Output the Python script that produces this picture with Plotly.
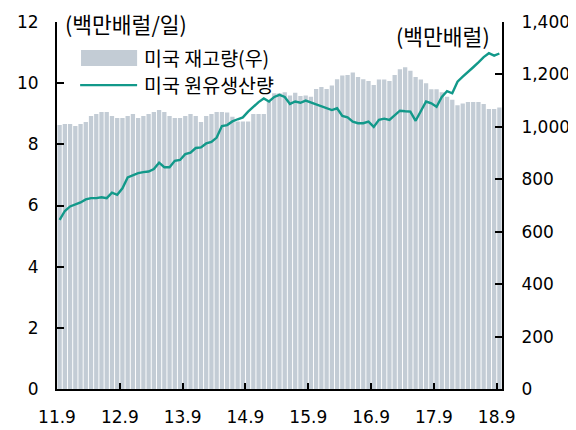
import plotly.graph_objects as go

# ---- data ----
tick_labels = ["11.9", "12.9", "13.9", "14.9", "15.9", "16.9", "17.9", "18.9"]

# US crude inventory (million barrels, right axis), monthly 2011.9 - 2018.9
us_inventory = [
    1007, 1011, 1011, 1003, 1011, 1019, 1041, 1049, 1057, 1057,
    1041, 1034, 1034, 1041, 1049, 1034, 1041, 1049, 1057, 1064,
    1057, 1041, 1034, 1034, 1041, 1049, 1041, 1019, 1041, 1049,
    1057, 1057, 1055, 1039, 1020, 1020, 1020, 1049, 1049, 1049,
    1096, 1128, 1128, 1132, 1120, 1130, 1118, 1120, 1115, 1144,
    1152, 1144, 1158, 1182, 1196, 1198, 1207, 1190, 1182, 1175,
    1160, 1181, 1181, 1175, 1198, 1220, 1227, 1214, 1190, 1181,
    1166, 1143, 1143, 1132, 1115, 1103, 1082, 1089, 1095, 1095,
    1095, 1087, 1068, 1068, 1074,
]

# US crude production (million b/d, left axis)
us_production = [
    5.53, 5.82, 5.97, 6.04, 6.10, 6.20, 6.24, 6.24, 6.27, 6.24,
    6.42, 6.35, 6.56, 6.92, 7.00, 7.06, 7.09, 7.11, 7.19, 7.40,
    7.25, 7.25, 7.46, 7.49, 7.68, 7.73, 7.88, 7.90, 8.03, 8.08,
    8.22, 8.60, 8.63, 8.75, 8.82, 8.88, 9.07, 9.23, 9.38, 9.50,
    9.40, 9.55, 9.62, 9.55, 9.32, 9.40, 9.36, 9.43, 9.37, 9.31,
    9.25, 9.20, 9.12, 9.18, 8.93, 8.88, 8.74, 8.69, 8.69, 8.74,
    8.57, 8.80, 8.84, 8.80, 8.95, 9.10, 9.08, 9.07, 8.77, 9.07,
    9.40, 9.34, 9.23, 9.55, 9.74, 9.67, 10.05, 10.21, 10.35, 10.52,
    10.68, 10.85, 10.98, 10.90, 10.97,
]

BAR_COLOR = "#c3ccd5"
LINE_COLOR = "#12998a"
KFONT = "Noto Sans CJK KR"
NFONT = "DejaVu Sans"

idx = list(range(len(us_inventory)))
tick_pos = [i * 12 - 0.5 for i in range(len(tick_labels))]

fig = go.Figure()
fig.add_trace(go.Bar(x=idx, y=us_inventory, marker=dict(color=BAR_COLOR, line=dict(width=0)),
                     name="미국 재고량(우)", yaxis="y", showlegend=False))
fig.add_trace(go.Scatter(x=idx, y=us_production, mode="lines",
                         line=dict(color=LINE_COLOR, width=2.4),
                         name="미국 원유생산량", yaxis="y2", showlegend=False))

axis_common = dict(showgrid=False, zeroline=False, showline=True, linecolor="black",
                   linewidth=2, ticks="inside", tickcolor="black", tickwidth=2,
                   automargin=False,
                   tickfont=dict(family=NFONT, size=17, color="black"))

# page has an 8px body margin, so the figure is 8px smaller (offset top-left)
fig.update_layout(
    width=568, height=422,
    margin=dict(l=49, r=74, t=14, b=41, autoexpand=False),
    paper_bgcolor="white", plot_bgcolor="white",
    bargap=0.18,
    showlegend=False,
    xaxis=dict(range=[-0.5, len(idx) - 0.5], tickmode="array", tickvals=tick_pos,
               ticktext=tick_labels, ticklen=6, ticklabelstandoff=12, **axis_common),
    yaxis=dict(side="right", range=[0, 1400], tickmode="linear", tick0=0, dtick=200,
               tickformat=",", ticklen=7, ticklabelstandoff=14, **axis_common),
    yaxis2=dict(side="left", overlaying="y", range=[0, 12], tickmode="linear", tick0=0,
                dtick=2, ticklen=7, ticklabelstandoff=13, **axis_common),
)

# axis unit labels
fig.add_annotation(text="(백만배럴/일)", xref="paper", yref="paper", x=0.014, y=0.997,
                   xanchor="left", yanchor="middle", showarrow=False,
                   font=dict(family=KFONT, size=21.5, color="black"))
fig.add_annotation(text="(백만배럴)", xref="paper", yref="paper", x=0.977, y=0.962,
                   xanchor="right", yanchor="middle", showarrow=False,
                   font=dict(family=KFONT, size=21.5, color="black"))

# legend (custom)
fig.add_shape(type="rect", xref="paper", yref="paper", x0=0.054, x1=0.180, y0=0.880, y1=0.924,
              fillcolor=BAR_COLOR, line=dict(width=0))
fig.add_shape(type="line", xref="paper", yref="paper", x0=0.052, x1=0.180, y0=0.828, y1=0.828,
              line=dict(color=LINE_COLOR, width=2.4))
fig.add_annotation(text="미국 재고량(우)", xref="paper", yref="paper", x=0.190, y=0.904,
                   xanchor="left", yanchor="middle", showarrow=False,
                   font=dict(family=KFONT, size=19.5, color="black"))
fig.add_annotation(text="미국 원유생산량", xref="paper", yref="paper", x=0.190, y=0.830,
                   xanchor="left", yanchor="middle", showarrow=False,
                   font=dict(family=KFONT, size=19.5, color="black"))

fig.write_html("out.html")
